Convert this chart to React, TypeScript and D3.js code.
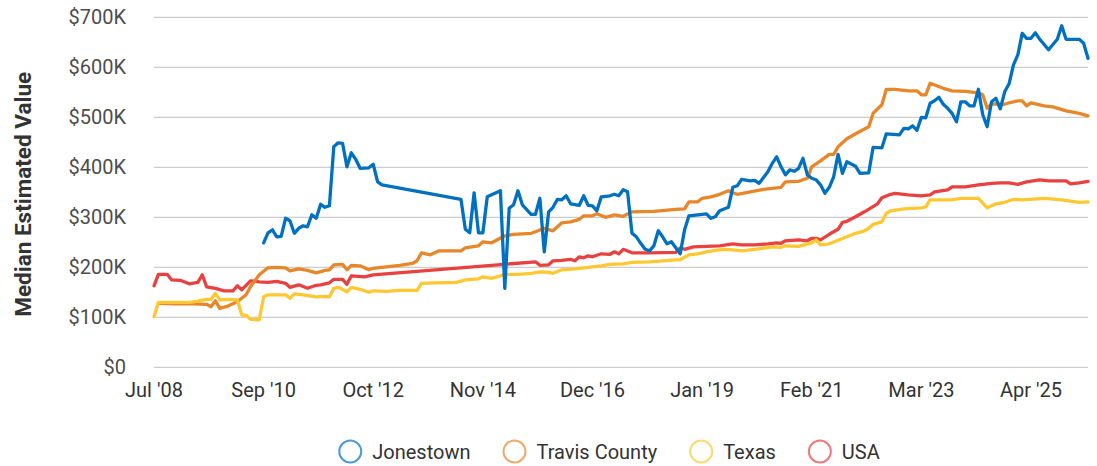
import React, { useEffect, useRef } from 'react';
import * as d3 from 'd3';

// Category axis: one point per month, ticks every 25 points
const tickLabels = ["Jul '08", "Sep '10", "Oct '12", "Nov '14", "Dec '16", "Jan '19", "Feb '21", "Mar '23", "Apr '25"];
const tickStep = 25;
const lastIndex = 213;
const yTicksK = [0, 100, 200, 300, 400, 500, 600, 700];

const seriesNames = ['Jonestown', 'Travis County', 'Texas', 'USA'];
const seriesColors = ['#0070C0', '#E8862A', '#FFC832', '#E8413F'];

// [month index, median value in $K]
const jonestown: [number, number][] = [
  [25, 249], [26, 269], [27, 275], [28, 261], [29, 262], [30, 298], [31, 293], [32, 268], [33, 278], [34, 283],
  [35, 281], [36, 305], [37, 298], [38, 326], [39, 320], [40, 323], [41, 441], [42, 449], [43, 448], [44, 401],
  [45, 429], [46, 416], [47, 398], [49, 399], [50, 406], [51, 371], [52, 365], [70, 336], [71, 276], [72, 269],
  [73, 349], [74, 269], [75, 269], [76, 341], [77, 345], [79, 353], [80, 158], [81, 318], [82, 325], [83, 353],
  [84, 325], [86, 306], [87, 306], [88, 338], [89, 231], [90, 311], [91, 320], [92, 336], [93, 335], [94, 343],
  [95, 327], [97, 324], [98, 343], [99, 324], [100, 323], [101, 313], [102, 341], [104, 343], [105, 346], [106, 343],
  [107, 355], [108, 351], [109, 268], [110, 261], [111, 248], [112, 236], [113, 233], [114, 243], [115, 273], [116, 261],
  [117, 247], [118, 251], [119, 239], [120, 227], [121, 275], [122, 303], [124, 305], [126, 307], [127, 298], [128, 301],
  [129, 313], [131, 320], [132, 360], [133, 363], [134, 376], [136, 373], [137, 374], [138, 368], [140, 391], [141, 408],
  [142, 421], [143, 401], [144, 385], [145, 395], [146, 392], [147, 398], [148, 418], [149, 385], [150, 378], [151, 375],
  [152, 365], [153, 348], [154, 360], [155, 381], [156, 426], [157, 388], [158, 411], [160, 402], [161, 388], [163, 389],
  [164, 440], [166, 439], [167, 467], [170, 465], [171, 478], [172, 477], [173, 483], [174, 474], [175, 500], [176, 499],
  [177, 528], [178, 533], [179, 540], [180, 526], [181, 518], [182, 508], [183, 491], [184, 531], [185, 531], [186, 523],
  [187, 523], [188, 556], [189, 505], [190, 481], [191, 531], [192, 538], [193, 517], [194, 551], [195, 567], [196, 605],
  [197, 625], [198, 668], [199, 658], [200, 658], [201, 669], [202, 656], [204, 635], [206, 656], [207, 683], [208, 656],
  [211, 656], [212, 648], [213, 618],
];

const travisCounty: [number, number][] = [
  [1, 128], [5, 127], [9, 127], [12, 126], [13, 121], [14, 133], [15, 118], [17, 123], [19, 131], [21, 145],
  [22, 161], [24, 185], [26, 199], [28, 200], [30, 199], [31, 193], [33, 197], [35, 194], [37, 189], [39, 194],
  [40, 195], [41, 205], [43, 206], [44, 195], [45, 204], [47, 203], [49, 195], [50, 198], [53, 201], [56, 204],
  [59, 208], [60, 213], [61, 229], [63, 225], [65, 233], [70, 233], [71, 239], [74, 243], [75, 251], [77, 249],
  [80, 263], [82, 266], [86, 268], [87, 271], [89, 278], [91, 273], [93, 289], [95, 291], [97, 296], [98, 303],
  [100, 303], [101, 307], [103, 300], [105, 305], [107, 302], [109, 311], [114, 312], [119, 316], [121, 317], [122, 331],
  [124, 331], [125, 338], [127, 341], [129, 346], [131, 353], [132, 349], [133, 346], [136, 351], [139, 356], [143, 360],
  [144, 371], [147, 372], [149, 378], [150, 401], [152, 413], [154, 426], [155, 426], [156, 441], [158, 457], [160, 467],
  [163, 481], [164, 508], [166, 525], [167, 556], [169, 556], [172, 553], [174, 553], [175, 545], [176, 545], [177, 568],
  [180, 558], [182, 553], [185, 552], [188, 549], [189, 545], [190, 518], [191, 527], [194, 526], [195, 529], [197, 533],
  [198, 533], [199, 523], [200, 529], [203, 523], [205, 521], [208, 513], [211, 508], [213, 503],
];

const texas: [number, number][] = [
  [0, 101], [1, 130], [5, 130], [8, 130], [9, 131], [12, 136], [13, 136], [14, 148], [15, 135], [17, 136],
  [19, 135], [20, 105], [21, 104], [22, 96], [24, 95], [25, 141], [26, 145], [30, 145], [31, 138], [32, 147],
  [34, 145], [37, 141], [39, 142], [40, 141], [41, 158], [42, 160], [44, 151], [45, 160], [47, 156], [49, 150],
  [50, 153], [53, 152], [56, 154], [60, 154], [61, 168], [64, 169], [69, 170], [71, 175], [74, 177], [75, 181],
  [77, 178], [79, 183], [80, 186], [83, 186], [86, 188], [88, 191], [90, 190], [91, 188], [93, 195], [96, 197],
  [99, 200], [102, 203], [104, 206], [107, 207], [109, 210], [113, 211], [116, 213], [119, 215], [120, 215], [122, 225],
  [124, 227], [126, 231], [128, 234], [130, 236], [132, 235], [134, 233], [137, 236], [141, 241], [143, 240], [144, 243],
  [147, 242], [149, 247], [150, 249], [151, 255], [152, 245], [154, 247], [156, 254], [158, 261], [160, 268], [162, 273],
  [163, 278], [164, 286], [166, 291], [167, 308], [168, 313], [171, 317], [175, 319], [176, 321], [177, 335], [182, 335],
  [184, 338], [188, 338], [190, 319], [192, 327], [194, 330], [196, 336], [198, 335], [203, 338], [207, 335], [211, 330],
  [213, 331],
];

const usa: [number, number][] = [
  [0, 163], [1, 186], [3, 186], [4, 175], [6, 174], [8, 167], [10, 170], [11, 185], [12, 161], [14, 158],
  [16, 153], [18, 153], [19, 163], [20, 155], [22, 173], [24, 171], [26, 170], [28, 172], [30, 168], [31, 160],
  [33, 165], [35, 158], [37, 164], [38, 165], [40, 169], [41, 176], [43, 176], [44, 166], [45, 183], [48, 181],
  [50, 185], [87, 211], [88, 204], [90, 205], [91, 213], [93, 214], [95, 216], [96, 213], [97, 221], [98, 219],
  [99, 223], [100, 221], [102, 227], [104, 226], [105, 231], [106, 227], [107, 236], [109, 229], [113, 229], [119, 230],
  [120, 239], [121, 236], [123, 241], [126, 242], [129, 243], [132, 247], [134, 245], [137, 245], [140, 247], [142, 249],
  [143, 248], [144, 253], [147, 255], [149, 253], [150, 258], [151, 258], [152, 255], [154, 266], [156, 276], [157, 290],
  [158, 292], [160, 301], [162, 311], [165, 327], [166, 339], [168, 346], [169, 348], [172, 345], [175, 343], [177, 345],
  [178, 351], [181, 355], [182, 361], [185, 361], [188, 365], [191, 368], [193, 369], [195, 369], [197, 366], [199, 371],
  [202, 375], [204, 373], [208, 373], [209, 367], [211, 369], [213, 372],
];

const seriesData = [jonestown, travisCounty, texas, usa];

const W = 1097;
const H = 466;
const FONT = 'Roboto, "Noto Sans", sans-serif';

export default function App() {
  const ref = useRef<SVGSVGElement | null>(null);

  useEffect(() => {
    const svg = d3.select(ref.current);
    svg.selectAll('*').remove();

    const x = d3.scaleLinear().domain([0, lastIndex]).range([154, 1088]);
    const y = d3.scaleLinear().domain([0, 700]).range([367.3, 17.3]);

    // gridlines
    svg.append('g')
      .selectAll('line')
      .data(yTicksK)
      .join('line')
      .attr('x1', 154).attr('x2', 1088)
      .attr('y1', d => y(d)).attr('y2', d => y(d))
      .attr('stroke', '#cccccc').attr('stroke-width', 1.2);

    // y tick labels
    svg.append('g')
      .selectAll('text')
      .data(yTicksK)
      .join('text')
      .attr('x', 126).attr('y', d => y(d))
      .attr('dy', '0.35em')
      .attr('text-anchor', 'end')
      .attr('font-family', FONT).attr('font-size', 20)
      .attr('fill', '#4d4d4d')
      .text(d => (d === 0 ? '$0' : `$${d}K`));

    // x tick labels
    svg.append('g')
      .selectAll('text')
      .data(tickLabels)
      .join('text')
      .attr('x', (_, i) => x(i * tickStep)).attr('y', 397)
      .attr('text-anchor', 'middle')
      .attr('font-family', FONT).attr('font-size', 20)
      .attr('fill', '#333333')
      .text(d => d);

    // y axis title
    svg.append('text')
      .attr('transform', `translate(31,${(y(0) + y(700)) / 2 + 2}) rotate(-90)`)
      .attr('text-anchor', 'middle')
      .attr('font-family', FONT).attr('font-size', 22.5).attr('font-weight', 700)
      .attr('fill', '#333333')
      .text('Median Estimated Value');

    // lines
    const line = d3.line<[number, number]>().x(d => x(d[0])).y(d => y(d[1]));
    const order = [3, 1, 2, 0];
    svg.append('g')
      .selectAll('path')
      .data(order)
      .join('path')
      .attr('d', i => line(seriesData[i]) as string)
      .attr('fill', 'none')
      .attr('stroke', i => seriesColors[i])
      .attr('stroke-width', 3.3)
      .attr('stroke-linejoin', 'round')
      .attr('stroke-linecap', 'round');

    // legend
    const lg = svg.append('g');
    const items = lg.selectAll('g').data(seriesNames).join('g');
    items.append('circle')
      .attr('cx', 11).attr('cy', 0).attr('r', 11)
      .attr('fill', '#ffffff')
      .attr('stroke', (_, i) => seriesColors[i])
      .attr('stroke-opacity', 0.7)
      .attr('stroke-width', 2);
    items.append('text')
      .attr('x', 33).attr('y', 0).attr('dy', '0.35em')
      .attr('font-family', FONT).attr('font-size', 20)
      .attr('fill', '#333333')
      .text(d => d);
    let cx = 0;
    items.each(function () {
      const g = d3.select(this);
      g.attr('transform', `translate(${cx},451.5)`);
      const tw = (g.select('text').node() as SVGTextElement).getComputedTextLength();
      cx += 33 + tw + 33;
    });
    const total = cx - 33;
    lg.attr('transform', `translate(${609.5 - total / 2},0)`);
  }, []);

  return (
    <svg
      ref={ref}
      width={W}
      height={H}
      style={{ position: 'absolute', left: 0, top: 0, background: '#ffffff' }}
    />
  );
}
